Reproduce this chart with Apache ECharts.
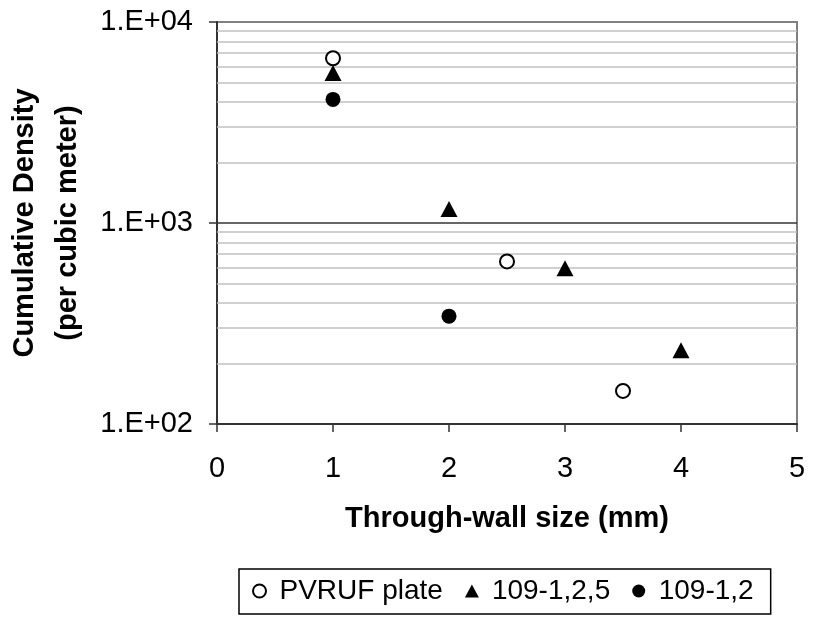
<!DOCTYPE html>
<html>
<head>
<meta charset="utf-8">
<title>Cumulative Density vs Through-wall size</title>
<script src="https://cdn.jsdelivr.net/npm/echarts@6/dist/echarts.min.js"></script>
<style>
  html, body { margin: 0; padding: 0; background: #fff; }
  #chart { width: 814px; height: 617px; }
</style>
</head>
<body>
<div id="chart"></div>
<script>
// Through-wall size (mm) and cumulative density (per cubic meter) for each data set
const pvrufSize    = [1, 2.5, 3.5];
const pvrufDensity = [6600, 644, 146];

const s1225Size    = [1, 2, 3, 4];
const s1225Density = [5570, 1175, 596, 233];

const s122Size     = [1, 2];
const s122Density  = [4120, 344];

// Axis ranges and grid levels
const xTicks = [0, 1, 2, 3, 4, 5];
const yMajorLines = [1000];
const yMinorLines = [200, 300, 400, 500, 600, 700, 800, 900,
                     2000, 3000, 4000, 5000, 6000, 7000, 8000, 9000];

const FONT = '"Liberation Sans", Arial, sans-serif';

function pairs(xs, ys) { return xs.map((x, i) => [x, ys[i]]); }

const gridLines = [
  ...yMinorLines.map(v => ({ yAxis: v, lineStyle: { color: '#c0c0c0', width: 1.6, type: 'solid' } })),
  ...yMajorLines.map(v => ({ yAxis: v, lineStyle: { color: '#333333', width: 1.5, type: 'solid' } }))
];

const chart = echarts.init(document.getElementById('chart'), null, { renderer: 'canvas' });

chart.setOption({
  backgroundColor: '#ffffff',
  animation: false,
  textStyle: { fontFamily: FONT, color: '#000' },
  grid: {
    left: 217, right: 17, top: 22, bottom: 193,
    show: true, borderColor: '#808080', borderWidth: 2,
    containLabel: false, outerBoundsMode: 'none'
  },
  xAxis: {
    type: 'value',
    min: xTicks[0], max: xTicks[xTicks.length - 1], interval: 1,
    name: 'Through-wall size (mm)',
    nameLocation: 'middle', nameGap: 80,
    nameTextStyle: { fontFamily: FONT, fontSize: 29, fontWeight: 'bold', color: '#000' },
    axisLine: { show: true, onZero: false, lineStyle: { color: '#333', width: 2 } },
    axisTick: { show: true, inside: false, length: 8, lineStyle: { color: '#333', width: 1.5 } },
    axisLabel: { fontFamily: FONT, fontSize: 29, color: '#000', margin: 30 },
    splitLine: { show: false }
  },
  yAxis: {
    type: 'log', logBase: 10, min: 100, max: 10000,
    name: 'Cumulative Density\n(per cubic meter)',
    nameLocation: 'middle', nameGap: 127, nameRotate: 90,
    nameTextStyle: { fontFamily: FONT, fontSize: 29, fontWeight: 'bold', color: '#000', lineHeight: 43, align: 'center' },
    axisLine: { show: true, lineStyle: { color: '#333', width: 2 } },
    axisTick: { show: true, inside: false, length: 8, lineStyle: { color: '#333', width: 1.5 } },
    axisLabel: {
      fontFamily: FONT, fontSize: 29, color: '#000', margin: 24,
      formatter: v => '1.E+' + String(Math.round(Math.log10(v))).padStart(2, '0')
    },
    splitLine: { show: false },
    minorTick: { show: false },
    minorSplitLine: { show: false }
  },
  legend: {
    data: [
      { name: 'PVRUF plate', icon: 'circle' },
      { name: '109-1,2,5', icon: 'triangle' },
      { name: '109-1,2', icon: 'circle' }
    ],
    left: 239, top: 569,
    orient: 'horizontal',
    padding: [8, 17, 9, 13],
    itemGap: 22,
    itemWidth: 14, itemHeight: 13,
    borderColor: '#000', borderWidth: 1.5, borderRadius: 0,
    backgroundColor: '#fff',
    textStyle: { fontFamily: FONT, fontSize: 28, color: '#000', padding: [0, 0, 0, 8] }
  },
  series: [
    {
      name: 'grid-levels',
      type: 'scatter',
      data: [],
      silent: true,
      z: 1,
      markLine: {
        silent: true,
        symbol: ['none', 'none'],
        label: { show: false },
        animation: false,
        data: gridLines
      }
    },
    {
      name: 'PVRUF plate',
      type: 'scatter',
      z: 5,
      symbol: 'circle',
      symbolSize: 14,
      itemStyle: { color: '#ffffff', borderColor: '#000000', borderWidth: 2, opacity: 1 },
      data: pairs(pvrufSize, pvrufDensity)
    },
    {
      name: '109-1,2,5',
      type: 'scatter',
      z: 5,
      symbol: 'triangle',
      symbolSize: [17, 16],
      itemStyle: { color: '#000000', opacity: 1 },
      data: pairs(s1225Size, s1225Density)
    },
    {
      name: '109-1,2',
      type: 'scatter',
      z: 5,
      symbol: 'circle',
      symbolSize: 15,
      itemStyle: { color: '#000000', opacity: 1 },
      data: pairs(s122Size, s122Density)
    }
  ]
});
</script>
</body>
</html>
